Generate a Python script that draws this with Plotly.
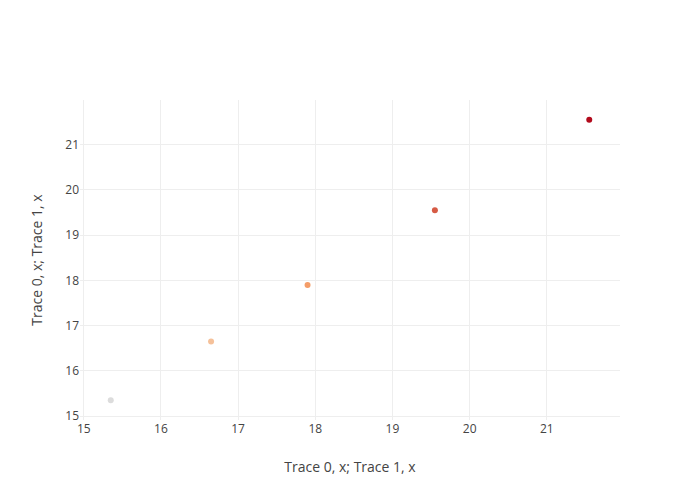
import plotly.graph_objects as go

x_vals = [15.35, 16.65, 17.9, 19.55, 21.55]
y_vals = [15.35, 16.65, 17.9, 19.55, 21.55]
color_vals = [15.35, 16.65, 17.9, 19.55, 21.55]

reds = [[0, "rgb(220,220,220)"], [0.2, "rgb(245,195,157)"],
        [0.4, "rgb(245,160,105)"], [1, "rgb(178,10,28)"]]

fig = go.Figure(go.Scatter(
    x=x_vals, y=y_vals, mode="markers",
    marker=dict(color=color_vals, colorscale=reds, size=6),
))

axis_common = dict(showgrid=True, gridcolor="#eee", zeroline=False,
                   showline=False, ticks="", tickfont=dict(size=12, color="#444"),
                   title_font=dict(size=14, color="#444"))
fig.update_layout(
    template="none",
    width=692, height=492,
    paper_bgcolor="white", plot_bgcolor="white",
    font=dict(family="Open Sans", color="#444"),
    margin=dict(l=72, r=80, t=92, b=80),
    xaxis=dict(title_text="Trace 0, x; Trace 1, x", **axis_common),
    yaxis=dict(title_text="Trace 0, x; Trace 1, x", **axis_common),
    showlegend=False,
)

fig.write_html("out.html")
